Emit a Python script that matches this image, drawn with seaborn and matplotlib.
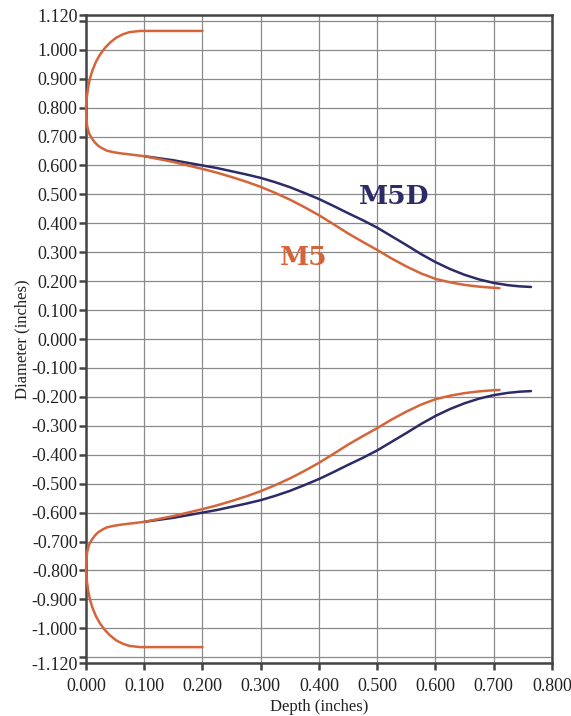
import matplotlib
matplotlib.use("Agg")
import matplotlib.pyplot as plt
import seaborn as sns
import pandas as pd

# Upper half of each profile (depth, diameter).
# The lower half is the mirror image about diameter = 0.
m5_depth = [0.200, 0.150, 0.100, 0.093, 0.075, 0.064, 0.052, 0.041, 0.032,
            0.024, 0.017, 0.0115, 0.007, 0.004, 0.0015, 0.000, 0.0005, 0.002,
            0.005, 0.010, 0.015, 0.021, 0.028, 0.036, 0.047, 0.059, 0.080,
            0.100, 0.125, 0.150, 0.175, 0.200, 0.225, 0.250, 0.275, 0.300,
            0.325, 0.350, 0.375, 0.400, 0.425, 0.450, 0.475, 0.500, 0.525,
            0.550, 0.575, 0.600, 0.625, 0.650, 0.675, 0.700, 0.710]
m5_diam = [1.065, 1.065, 1.065, 1.065, 1.061, 1.054, 1.042, 1.024, 1.005,
           0.983, 0.958, 0.931, 0.902, 0.873, 0.838, 0.803, 0.770, 0.736,
           0.712, 0.694, 0.680, 0.668, 0.659, 0.651, 0.646, 0.642, 0.637,
           0.632, 0.622, 0.612, 0.600, 0.588, 0.575, 0.560, 0.544, 0.526,
           0.505, 0.482, 0.456, 0.428, 0.397, 0.365, 0.336, 0.308, 0.278,
           0.251, 0.227, 0.208, 0.196, 0.187, 0.181, 0.177, 0.176]

m5d_depth = [0.100, 0.125, 0.150, 0.175, 0.200, 0.225, 0.250, 0.275, 0.300,
             0.325, 0.350, 0.375, 0.400, 0.425, 0.450, 0.475, 0.500, 0.525,
             0.550, 0.575, 0.600, 0.625, 0.650, 0.675, 0.700, 0.725, 0.745,
             0.764]
m5d_diam = [0.632, 0.625, 0.618, 0.609, 0.600, 0.591, 0.580, 0.569, 0.557,
            0.542, 0.525, 0.505, 0.484, 0.460, 0.435, 0.411, 0.385, 0.355,
            0.325, 0.294, 0.266, 0.242, 0.222, 0.206, 0.194, 0.186, 0.182,
            0.180]

x_ticks = [0.0, 0.1, 0.2, 0.3, 0.4, 0.5, 0.6, 0.7, 0.8]
y_ticks = [-1.12, -1.1, -1.0, -0.9, -0.8, -0.7, -0.6, -0.5, -0.4, -0.3, -0.2,
           -0.1, 0.0, 0.1, 0.2, 0.3, 0.4, 0.5, 0.6, 0.7, 0.8, 0.9, 1.0, 1.1, 1.12]

M5_COLOR = "#d4653a"
M5D_COLOR = "#2c2b68"

sns.set_theme(style="white")
plt.rcParams['font.family'] = ['Liberation Serif', 'DejaVu Serif']

fig = plt.figure(figsize=(5.71, 7.16), dpi=100)
ax = fig.add_axes([0.1506, 0.074, 0.816, 0.905])

def profile(depth, diam, sign):
    return pd.DataFrame({"depth": depth, "diam": [sign * d for d in diam]})

for sign in (1, -1):
    sns.lineplot(data=profile(m5d_depth, m5d_diam, sign), x="depth", y="diam",
                 sort=False, estimator=None, color=M5D_COLOR, lw=1.8, ax=ax)
for sign in (1, -1):
    sns.lineplot(data=profile(m5_depth, m5_diam, sign), x="depth", y="diam",
                 sort=False, estimator=None, color=M5_COLOR, lw=1.8, ax=ax,
                 clip_on=False, zorder=3)

ax.set_xlim(0, 0.8)
ax.set_ylim(-1.12, 1.12)
ax.set_xticks(x_ticks)
ax.set_xticklabels([f"{v:.3f}" for v in x_ticks])
ax.set_yticks(y_ticks)
ax.set_yticklabels(["" if abs(abs(v) - 1.1) < 1e-9 else f"{v:.3f}" for v in y_ticks])

ax.grid(True, color="#8a8a8a", lw=0.9)
for sp in ax.spines.values():
    sp.set_color("#444444")
    sp.set_linewidth(1.8)
    sp.set_visible(True)
ax.tick_params(axis="both", direction="out", length=5, width=1.8,
               color="#444444", labelsize=13, labelcolor="#222222", pad=1,
               left=True, bottom=True)
ax.tick_params(axis="x", pad=6)

ax.set_xlabel("Depth (inches)", fontsize=12, color="#222222", labelpad=3)
ax.set_ylabel("Diameter (inches)", fontsize=12, color="#222222", labelpad=1)

ax.text(0.529, 0.494, "M5D", color=M5D_COLOR, fontsize=19, fontweight="bold",
        family="DejaVu Serif", ha="center", va="center")
ax.text(0.374, 0.282, "M5", color=M5_COLOR, fontsize=19, fontweight="bold",
        family="DejaVu Serif", ha="center", va="center")

fig.savefig("out.png", dpi=100)
